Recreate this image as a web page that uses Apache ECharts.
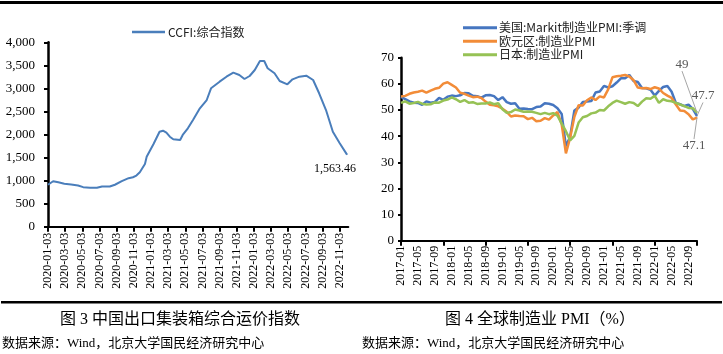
<!DOCTYPE html>
<html>
<head>
<meta charset="utf-8">
<script src="https://cdn.jsdelivr.net/npm/echarts@6/dist/echarts.min.js"></script>
<style>
  html, body { margin: 0; padding: 0; background: #fff; }
  #chart { width: 723px; height: 354px; }
</style>
</head>
<body>
<div id="chart"></div>
<script>
// 图3: CCFI, x in months since 2020-01-03
const ccfiTickLabels = ['2020-01-03', '2020-03-03', '2020-05-03', '2020-07-03', '2020-09-03', '2020-11-03',
  '2021-01-03', '2021-03-03', '2021-05-03', '2021-07-03', '2021-09-03', '2021-11-03',
  '2022-01-03', '2022-03-03', '2022-05-03', '2022-07-03', '2022-09-03', '2022-11-03']
const ccfiMonth = [0, 0.6, 1.2, 1.9, 2.7, 3.5, 4.1, 4.9, 5.7, 6.3, 7.2, 7.8, 8.6, 9.4, 9.9, 10.3, 10.7, 11.3,
  11.5, 12.3, 13.0, 13.4, 13.8, 14.2, 14.6, 15.4, 15.7, 16.3, 16.9, 17.7, 18.5, 19.0, 20.0, 20.8, 21.6,
  22.3, 22.9, 23.5, 24.1, 24.7, 25.2, 25.6, 26.4, 27.0, 27.9, 28.5, 29.3, 30.1, 30.9, 31.6, 32.4, 33.2,
  34.0, 34.85]
const ccfiValue = [910, 987, 966, 931, 916, 895, 858, 845, 845, 873, 873, 910, 987, 1052, 1073, 1109, 1180, 1360,
  1518, 1794, 2061, 2083, 2039, 1952, 1896, 1881, 1990, 2134, 2315, 2568, 2748, 3002, 3146, 3254, 3341,
  3291, 3204, 3269, 3399, 3594, 3594, 3436, 3328, 3161, 3089, 3197, 3254, 3276, 3182, 2894, 2531, 2061,
  1809, 1563.46]

// 图4: 全球制造业PMI, 2017-01 .. 2022-11
const pmiMonths = []
for (let y = 2017; y <= 2022; y++) {
  for (let m = 1; m <= 12; m++) {
    if (y === 2022 && m > 11) break
    pmiMonths.push(y + '-' + (m < 10 ? '0' + m : m))
  }
}
const pmiUS = [55.0, 54.2, 53.3, 52.8, 52.7, 52.0, 53.3, 52.8, 53.1, 54.6, 53.9, 55.1,
  55.5, 55.3, 55.6, 56.5, 56.4, 55.4, 55.3, 54.7, 55.6, 55.7, 55.3, 53.8,
  54.9, 53.0, 52.4, 52.6, 50.5, 50.6, 50.4, 50.3, 51.1, 51.3, 52.6, 52.4,
  51.9, 50.7, 48.5, 36.1, 39.8, 49.8, 50.9, 53.1, 53.2, 53.4, 56.7, 57.1,
  59.2, 58.6, 59.1, 60.5, 62.1, 62.1, 63.4, 61.1, 60.7, 58.4, 58.3, 57.7,
  55.5, 57.3, 58.8, 59.2, 57.0, 52.7, 52.2, 51.5, 52.0, 50.4, 47.7]
const pmiEuro = [55.2, 55.4, 56.2, 56.7, 57.0, 57.4, 56.6, 57.4, 58.1, 58.5, 60.1, 60.6,
  59.6, 58.6, 56.6, 56.2, 55.5, 54.9, 55.1, 54.6, 53.2, 52.0, 51.8, 51.4,
  50.5, 49.3, 47.5, 47.9, 47.7, 47.6, 46.5, 47.0, 45.7, 45.9, 46.9, 46.3,
  47.9, 49.2, 44.5, 33.4, 39.4, 47.4, 51.8, 51.7, 53.7, 54.8, 53.8, 55.2,
  54.8, 57.9, 62.5, 62.9, 63.1, 63.4, 62.8, 61.4, 58.6, 58.3, 58.4, 58.0,
  58.7, 58.2, 56.5, 55.5, 54.6, 52.1, 49.8, 49.6, 48.4, 46.4, 47.1]
const pmiJapan = [52.7, 53.3, 52.4, 52.7, 53.1, 52.4, 52.1, 52.2, 52.9, 52.8, 53.6, 54.0,
  54.8, 54.1, 53.1, 53.8, 52.8, 53.0, 52.3, 52.5, 52.5, 52.9, 52.2, 52.6,
  50.3, 48.9, 49.2, 50.2, 49.8, 49.3, 49.4, 49.3, 48.9, 48.4, 48.9, 48.4,
  48.8, 47.8, 44.8, 41.9, 38.4, 40.1, 45.2, 47.2, 47.7, 48.7, 49.0, 50.0,
  49.8, 51.4, 52.7, 53.6, 53.0, 52.4, 53.0, 52.7, 51.5, 53.2, 54.5, 54.3,
  55.4, 52.7, 54.1, 53.5, 53.3, 52.7, 52.1, 51.5, 50.8, 50.7, 49.0]

const serif = "'Liberation Serif', 'Times New Roman', 'Noto Sans CJK SC', serif"
const cjk = "'Noto Sans CJK SC', sans-serif"

// only the last point carries a (tiny) symbol so that its label is drawn
function lastLabelled(arr, color) {
  return arr.map((v, i) => i === arr.length - 1
    ? { value: v, symbol: 'circle', symbolSize: 1, itemStyle: { color: color }, label: { show: true } }
    : v)
}

const chart = echarts.init(document.getElementById('chart'))

const axisBase = {
  axisLine: { lineStyle: { color: '#000', width: 2 } },
  axisTick: { lineStyle: { color: '#000', width: 2 }, length: 4 },
  splitLine: { show: false },
  axisLabel: { color: '#000', fontFamily: serif, fontSize: 13 }
}

function pmiSeries(name, values, color, dx, dy) {
  return {
    name: name,
    type: 'line',
    xAxisIndex: 1, yAxisIndex: 1,
    symbol: 'none',
    showAllSymbol: true,
    clip: false,
    lineStyle: { color: color, width: 2.5 },
    itemStyle: { color: color },
    data: lastLabelled(values, color),
    label: { show: false, position: 'inside', color: '#595959', fontFamily: serif, fontSize: 13, formatter: '{c}' },
    labelLayout: { dx: dx, dy: dy },
    labelLine: { show: true, lineStyle: { color: '#a6a6a6', width: 1 } }
  }
}

const option = {
  animation: false,
  backgroundColor: '#fff',
  graphic: [
    { type: 'rect', shape: { x: 0, y: 1, width: 723, height: 3 }, style: { fill: '#000' } },
    { type: 'rect', shape: { x: 1, y: 301, width: 721, height: 2.5 }, style: { fill: '#000' } },
    { type: 'text', x: 180, y: 320, style: { text: '图 3 中国出口集装箱综合运价指数', fontSize: 16, fontFamily: serif, fill: '#000', align: 'center', verticalAlign: 'middle' } },
    { type: 'text', x: 540, y: 320, style: { text: '图 4 全球制造业 PMI（%）', fontSize: 16, fontFamily: serif, fill: '#000', align: 'center', verticalAlign: 'middle' } },
    { type: 'text', x: 2, y: 344, style: { text: '数据来源：Wind，北京大学国民经济研究中心', fontSize: 13, fontFamily: serif, fill: '#000', verticalAlign: 'middle' } },
    { type: 'text', x: 362, y: 344, style: { text: '数据来源：Wind，北京大学国民经济研究中心', fontSize: 13, fontFamily: serif, fill: '#000', verticalAlign: 'middle' } }
  ],
  legend: [
    {
      data: ['CCFI:综合指数'],
      left: 127, top: 21,
      icon: 'rect',
      itemWidth: 33, itemHeight: 2.5, itemGap: 1,
      textStyle: { fontSize: 12, fontFamily: cjk, color: '#222', padding: [0, 0, 0, -2] }
    },
    {
      data: ['美国:Markit制造业PMI:季调', '欧元区:制造业PMI', '日本:制造业PMI'],
      orient: 'vertical',
      left: 458, top: 16,
      icon: 'rect',
      itemWidth: 34, itemHeight: 3, itemGap: 0,
      textStyle: { fontSize: 12, fontFamily: cjk, color: '#222', lineHeight: 13.5, padding: [0, 0, 0, -3] }
    }
  ],
  grid: [
    { left: 48, top: 42.3, width: 300.3, height: 184.4 },
    { left: 401, top: 57.7, width: 296, height: 183 }
  ],
  xAxis: [
    Object.assign({}, axisBase, {
      gridIndex: 0,
      type: 'value',
      min: 0, max: 35, interval: 2,
      axisTick: { lineStyle: { color: '#000', width: 2 }, length: 5 },
      axisLabel: {
        color: '#000', fontFamily: serif, fontSize: 12, rotate: 90, margin: 6,
        showMaxLabel: false,
        formatter: v => ccfiTickLabels[v / 2] || ''
      }
    }),
    Object.assign({}, axisBase, {
      gridIndex: 1,
      type: 'category',
      data: pmiMonths,
      boundaryGap: false,
      axisTick: { lineStyle: { color: '#000', width: 2 }, length: 5, interval: 9 },
      axisLabel: { color: '#000', fontFamily: serif, fontSize: 12, rotate: 90, margin: 5, interval: 3 }
    })
  ],
  yAxis: [
    Object.assign({}, axisBase, {
      gridIndex: 0,
      type: 'value',
      min: 0, max: 4000, interval: 500,
      axisLine: { show: true, lineStyle: { color: '#000', width: 2.5 } },
      axisTick: { show: true, lineStyle: { color: '#000', width: 2 }, length: 4 },
      axisLabel: { color: '#000', fontFamily: serif, fontSize: 13, margin: 13, formatter: v => echarts.format.addCommas(v) }
    }),
    Object.assign({}, axisBase, {
      gridIndex: 1,
      type: 'value',
      min: 0, max: 70, interval: 10,
      axisLine: { show: true, lineStyle: { color: '#000', width: 2.5 } },
      axisTick: { show: true, lineStyle: { color: '#000', width: 2 }, length: 3 },
      axisLabel: { color: '#000', fontFamily: serif, fontSize: 13, margin: 7 }
    })
  ],
  series: [
    {
      name: 'CCFI:综合指数',
      type: 'line',
      xAxisIndex: 0, yAxisIndex: 0,
      symbol: 'none',
      lineStyle: { color: '#4a7ebb', width: 2 },
      itemStyle: { color: '#4a7ebb' },
      data: lastLabelled(ccfiMonth.map((m, i) => [m, ccfiValue[i]]), '#4a7ebb'),
      label: {
        show: false,
        position: 'bottom',
        offset: [-12, 3],
        color: '#000', fontFamily: serif, fontSize: 12,
        formatter: p => echarts.format.addCommas(p.value[1])
      }
    },
    pmiSeries('美国:Markit制造业PMI:季调', pmiUS, '#4676c0', 6, -20),
    pmiSeries('欧元区:制造业PMI', pmiEuro, '#f28c38', -3, 28),
    pmiSeries('日本:制造业PMI', pmiJapan, '#96c255', -15, -48)
  ]
}

chart.setOption(option)
</script>
</body>
</html>
